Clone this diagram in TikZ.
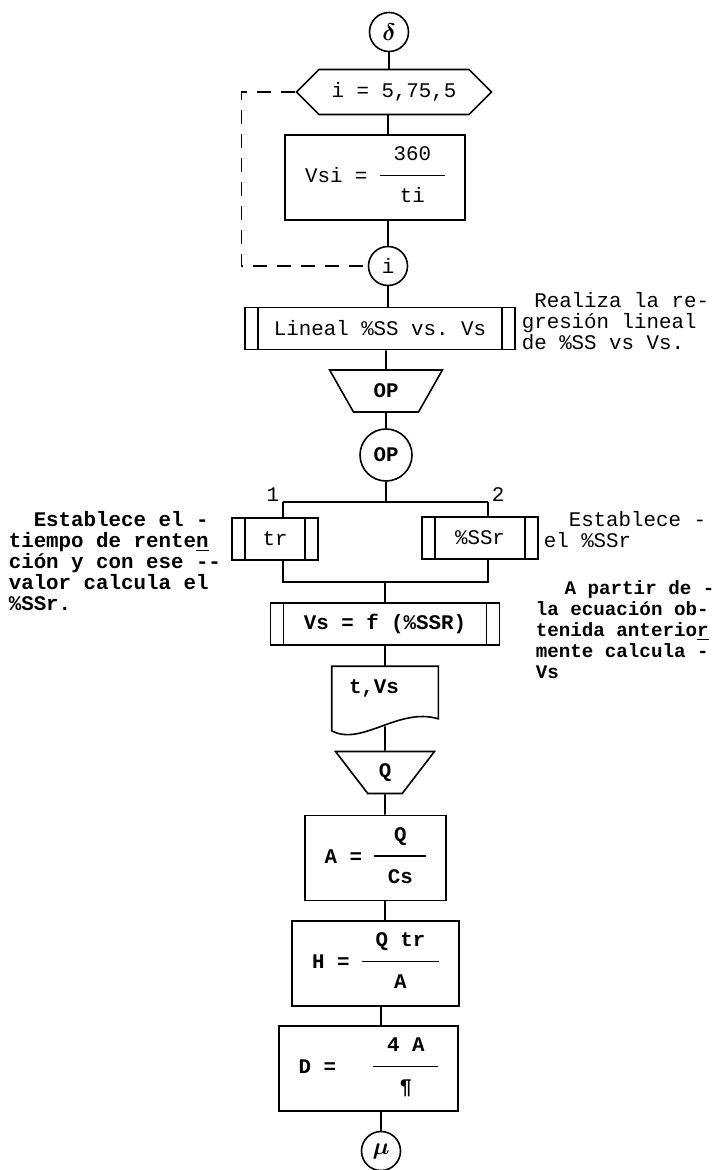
\documentclass[tikz,border=0pt]{standalone}
\usepackage{fontspec}
\setmainfont{Liberation Mono}
\usetikzlibrary{positioning,shapes.geometric,shapes.symbols}

\newcommand{\fracline}[3]{%
  \begin{tabular}[c]{@{}c@{}}#1\\\rule[2.8pt]{#3}{0.7pt}\\#2\end{tabular}}

\begin{document}
\frenchspacing
\begin{tikzpicture}[x=0.5pt, y=-0.5pt, line width=0.8pt,
  every node/.style={font=\fontsize{10.4}{10.5}\selectfont},
  conn/.style={draw, circle, minimum size=19.5pt, inner sep=0pt},
  loopbox/.style={draw, signal, signal to=west and east,
                  minimum width=97.5pt, minimum height=22.5pt, inner sep=0pt},
  procbox/.style={draw, rectangle, minimum width=#1,
                  minimum height=42.5pt, inner sep=0pt},
  subproc/.style={draw, rectangle, minimum width=#1,
                  minimum height=21pt, inner sep=0pt,
                  path picture={
                    \draw ([xshift=6.5pt]path picture bounding box.north west)
                       -- ([xshift=6.5pt]path picture bounding box.south west)
                          ([xshift=-6.5pt]path picture bounding box.north east)
                       -- ([xshift=-6.5pt]path picture bounding box.south east);}},
  manin/.style={draw, trapezium, trapezium stretches=true,
                shape border rotate=180, trapezium left angle=57,
                trapezium right angle=57, minimum width=#1,
                minimum height=21pt, inner sep=0pt},
  docbox/.style={minimum width=52.5pt, minimum height=31.5pt,
                 text width=36pt, align=left, text height=7pt,
                 text depth=12pt, inner sep=0pt},
  note/.style={anchor=north west, align=left, inner sep=0pt},
  boldnote/.style={note, font=\fontsize{#1}{10.5}\selectfont\bfseries},
  greek/.style={font=\fontsize{13}{13}\selectfont\boldmath},
  loopline/.style={dash pattern=on 7pt off 5pt}]

\useasboundingbox (0,0) rectangle (715,1170);

% loop over i
\node[conn, greek] (start) at (389,32) {$\delta$};
\node[loopbox] (loop) at (394,92) {i = 5,75,5};
\node[procbox=90pt] (vsi) at (375,177.5) {Vsi = \fracline{360}{ti}{32.5pt}};
\node[conn] (endloop) at (388,266) {i};

% regression and option
\node[subproc=135pt] (lineal) at (380,328.5) {Lineal \%SS vs. Vs};
\node[manin=56.5pt] (opin) at (386,391) {\bfseries OP};
\node[conn, minimum size=26pt] (opsel) at (386,455) {\bfseries OP};

\coordinate (br1) at (283,502);
\coordinate (br2) at (488,502);
\node[above left=-1pt and 0.5pt of br1, inner sep=1pt] (lbl1) {1};
\node[above right=-1pt and 0.5pt of br2, inner sep=1pt] (lbl2) {2};
\node[subproc=43pt] (tr) at (275,539) {tr};
\node[subproc=58pt] (ssr) at (480,538) {\%SSr};
\coordinate (jn1) at (283,582);
\coordinate (jn2) at (488,582);

% settling velocity and design
\node[subproc=114.5pt] (vs) at (385,624) {\bfseries Vs = f (\%SSR)};
\node[docbox] (tvs) at (385,698.5) {\bfseries t,Vs};
\node[manin=49.5pt] (qin) at (385,772.5) {\bfseries Q};
\node[procbox=70.5pt] (area) at (375.5,858) {\bfseries A = \fracline{Q}{Cs}{26pt}};
\node[procbox=83.5pt] (height) at (375.5,963.5) {\bfseries H = \fracline{Q tr}{A}{38.5pt}};
\node[procbox=89.5pt] (diam) at (368.5,1068.5) {\bfseries D =~~~\fracline{4 A}{¶}{32.5pt}};
\node[conn, greek] (stop) at (381,1151) {$\mu$};

% side notes
\node[note] (note1) at (521,292) {~Realiza la re-\\gresión lineal\\de \%SS vs Vs.};
\node[boldnote=10.4] (noteleft) at (8,511) {~~Establece el -\\tiempo de rente\underline{n}\\ción y con ese -{}-\\valor calcula el\\\%SSr.};
\node[note] (note2) at (543,511) {~~Establece -\\el \%SSr};
\node[boldnote=9.6] (note3) at (535,580)
  {\hspace*{14.4pt}A partir de -\\la ecuación ob-\\tenida anterio\underline{r}\\mente calcula -\\Vs};

% document outline
\draw (tvs.north west) -- (tvs.north east) -- ([yshift=6pt]tvs.south east)
  .. controls ([xshift=-20pt,yshift=12pt]tvs.south east)
  and ([xshift=15pt,yshift=-8pt]tvs.south west) .. (tvs.south west) -- cycle;

% flow lines
\draw (start.south) -- (start.south |- loop.north);
\draw (loop.south -| endloop) -- (vsi.north -| endloop);
\draw (vsi.south -| endloop) -- (endloop.north);
\draw (endloop.south) -- (endloop.south |- lineal.north);
\draw (lineal.south -| opin) -- (opin);
\draw (opin) -- (opsel);
\draw (opsel) -- (opsel |- br1);
\draw (br1) -- (br2);
\draw (br1) -- (br1 |- tr.north);
\draw (br2) -- (br2 |- ssr.north);
\draw (tr.south -| jn1) -- (jn1) -- (jn2) -- (ssr.south -| jn2);
\draw (vs.north |- jn1) -- (vs);
\draw (vs) -- (tvs);
\draw ([yshift=2.25pt]tvs.south) -- (qin);
\draw (qin) -- (qin |- area.north);
\draw (area.south -| qin) -- (height.north -| qin);
\draw (height.south -| stop) -- (diam.north -| stop);
\draw (diam.south -| stop) -- (stop);

% loop return
\draw[loopline] (loop.west) -- ++(-54,0) |- (endloop.west);
\end{tikzpicture}
\end{document}
